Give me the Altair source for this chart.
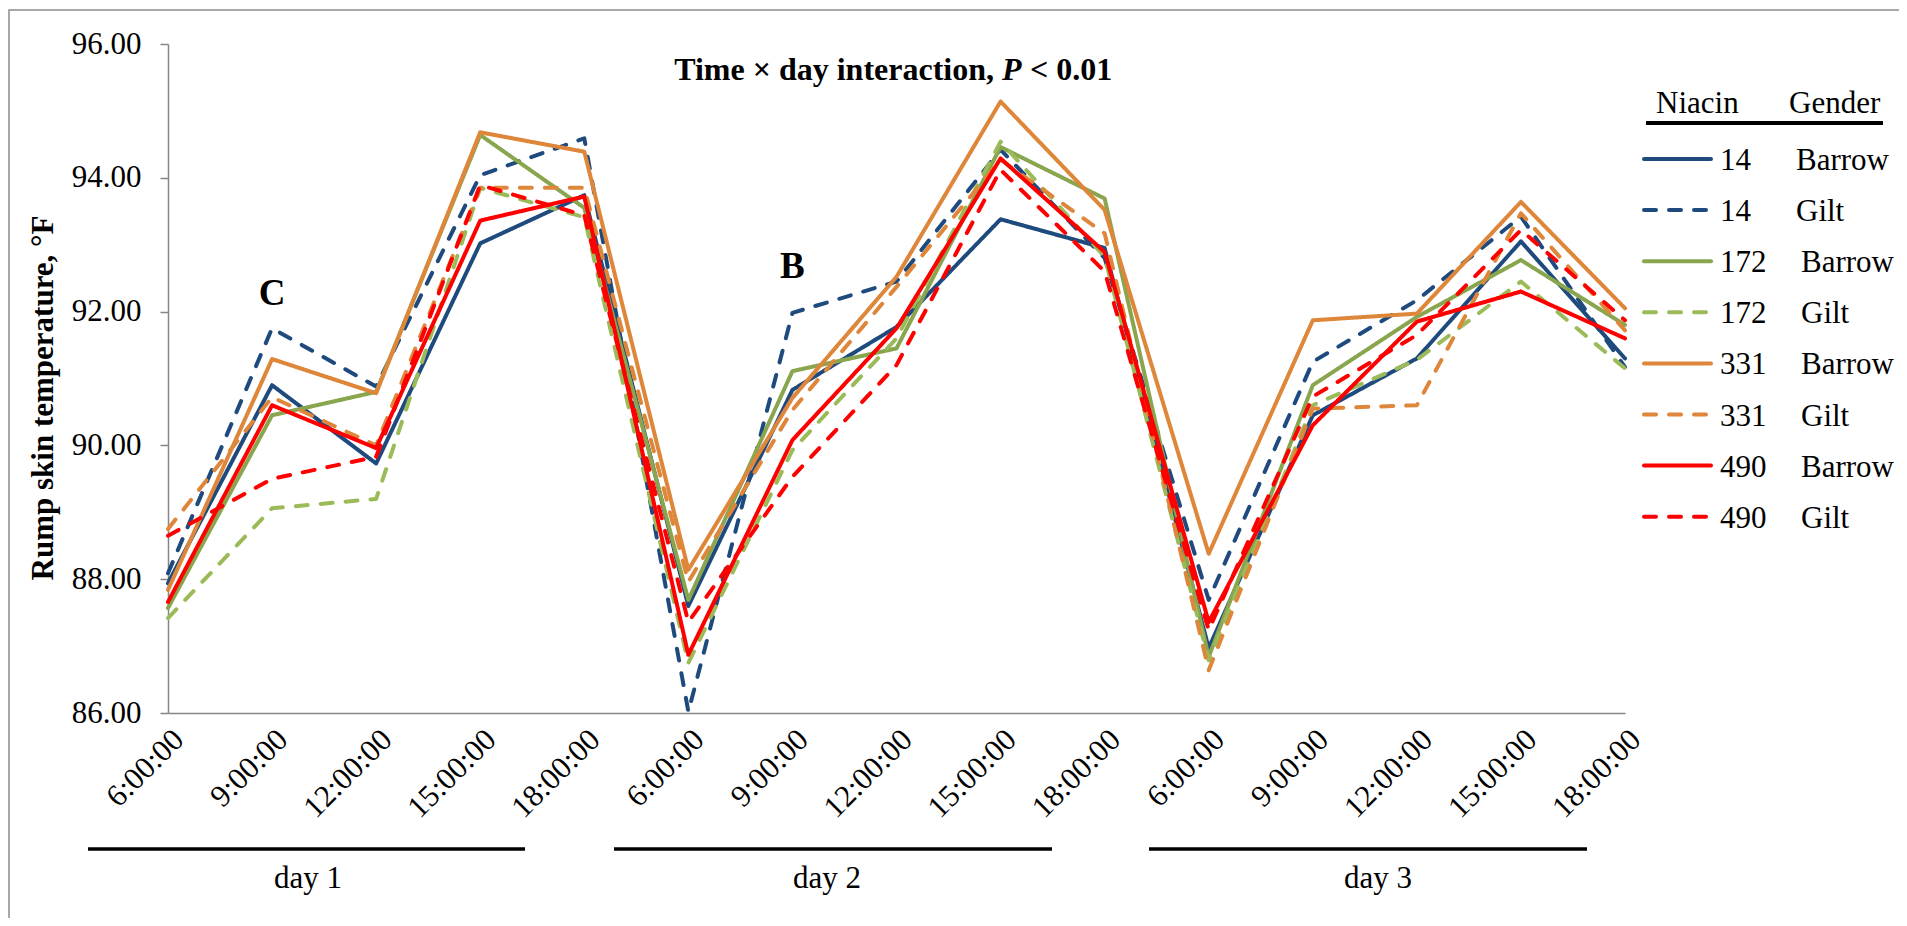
import altair as alt
import pandas as pd

# ---------------- data ----------------
times = ["6:00:00", "9:00:00", "12:00:00", "15:00:00", "18:00:00"]
days = ["day 1", "day 2", "day 3"]

niacin = ["14", "14", "172", "172", "331", "331", "490", "490"]
gender = ["Barrow", "Gilt", "Barrow", "Gilt", "Barrow", "Gilt", "Barrow", "Gilt"]

n14_barrow = [87.94, 90.90, 89.73, 93.02, 93.74,
              87.60, 90.83, 91.77, 93.38, 92.95,
              86.97, 90.45, 91.30, 93.05, 91.30]
n14_gilt = [88.09, 91.75, 90.88, 94.04, 94.59,
            86.02, 91.98, 92.45, 94.42, 92.80,
            87.69, 91.25, 92.17, 93.42, 91.17]
n172_barrow = [87.57, 90.45, 90.80, 94.64, 93.55,
               87.69, 91.11, 91.45, 94.46, 93.69,
               86.84, 90.90, 91.92, 92.77, 91.80]
n172_gilt = [87.42, 89.06, 89.20, 93.85, 93.41,
             86.75, 89.93, 91.60, 94.54, 92.82,
             86.79, 90.60, 91.28, 92.45, 91.15]
n331_barrow = [87.84, 91.29, 90.78, 94.68, 94.39,
               88.14, 90.71, 92.52, 95.14, 93.52,
               88.38, 91.87, 91.97, 93.64, 92.05]
n331_gilt = [88.75, 90.72, 90.00, 93.85, 93.85,
             87.96, 90.53, 92.37, 94.27, 93.17,
             86.64, 90.55, 90.60, 93.47, 91.72]
n490_barrow = [87.66, 90.60, 89.96, 93.36, 93.72,
               86.87, 90.08, 91.75, 94.29, 92.89,
               87.36, 90.30, 91.85, 92.30, 91.60]
n490_gilt = [88.65, 89.50, 89.83, 93.89, 93.44,
             87.36, 89.53, 91.20, 94.12, 92.60,
             87.24, 90.73, 91.65, 93.22, 91.87]

series_values = [n14_barrow, n14_gilt, n172_barrow, n172_gilt,
                 n331_barrow, n331_gilt, n490_barrow, n490_gilt]

annot_text = ["C", "B"]
annot_day = [0, 1]
annot_time = ["9:00:00", "9:00:00"]
annot_value = [92.10, 92.50]

# ---------------- build tables ----------------
keys = [f"{d + 1}|{t}" for d in range(len(days)) for t in times]
names = [f"{n} {g}" for n, g in zip(niacin, gender)]

rows = []
for name, vals in zip(names, series_values):
    for i, (k, v) in enumerate(zip(keys, vals)):
        rows.append({"key": k, "idx": i, "temp": v, "series": name})
df = pd.DataFrame(rows)

annot_df = pd.DataFrame({
    "key": [f"{d + 1}|{t}" for d, t in zip(annot_day, annot_time)],
    "temp": annot_value,
    "label": annot_text,
})

colors = ["#1F4A7E", "#1F4A7E", "#89A54E", "#9BBB59",
          "#DE8639", "#DE8639", "#FF0000", "#FF0000"]
dashes = [[1, 0], [12, 13], [1, 0], [12, 13], [1, 0], [12, 13], [1, 0], [12, 13]]

FONT = "Liberation Serif, Times New Roman, Tinos, DejaVu Serif, serif"
W, H = 1457, 669
GRAY = "#868686"

x_enc = alt.X(
    "key:O",
    sort=keys,
    scale=alt.Scale(type="point", domain=keys, padding=0),
    axis=alt.Axis(
        title=None, labelExpr="split(datum.label, '|')[1]",
        labelAngle=315, labelAlign="right", labelBaseline="top",
        labelPadding=11, ticks=False, tickSize=0,
        domainColor=GRAY, domainWidth=1.5, grid=False,
        labelFont=FONT, labelFontSize=31, labelColor="black",
        labelOverlap=False, labelFlush=False, labelBound=False,
    ),
)
y_enc = alt.Y(
    "temp:Q",
    scale=alt.Scale(domain=[86, 96], nice=False, zero=False),
    axis=alt.Axis(
        values=[86, 88, 90, 92, 94, 96], format=".2f",
        labelFont=FONT, labelFontSize=31, labelColor="black",
        labelPadding=19, tickSize=8, tickColor=GRAY, tickWidth=1.5,
        domainColor=GRAY, domainWidth=1.5, grid=False,
        title="Rump skin temperature, °F", titleFont=FONT,
        titleFontSize=31, titleFontWeight="bold", titleColor="black",
        titleAngle=270, titleX=-116, titleY=353.5, titleAlign="center",
        titleBaseline="alphabetic",
    ),
)

lines = alt.Chart(df).mark_line(strokeWidth=4, strokeCap="round", strokeJoin="round").encode(
    x=x_enc,
    y=y_enc,
    color=alt.Color("series:N", scale=alt.Scale(domain=names, range=colors), legend=None),
    strokeDash=alt.StrokeDash("series:N", scale=alt.Scale(domain=names, range=dashes), legend=None),
    order=alt.Order("idx:Q"),
)

annots = alt.Chart(annot_df).mark_text(
    font=FONT, fontSize=37, fontWeight="bold", baseline="alphabetic", align="center", color="black"
).encode(x=x_enc, y=y_enc, text="label:N")


def text_layer(txt, x, y, size=31, weight="normal", style="normal", align="left", baseline="alphabetic"):
    return alt.Chart(pd.DataFrame({"t": [txt]})).mark_text(
        font=FONT, fontSize=size, fontWeight=weight, fontStyle=style, align=align,
        baseline=baseline, color="black"
    ).encode(text="t:N", x=alt.value(x), y=alt.value(y))


def rule_layer(x0, x1, y, color="black", width=4, dash=None):
    kw = dict(color=color, strokeWidth=width, strokeCap="round")
    if dash is not None:
        kw["strokeDash"] = dash
    return alt.Chart(pd.DataFrame({"a": [0]})).mark_rule(**kw).encode(
        x=alt.value(x0), x2=alt.value(x1), y=alt.value(y)
    )


# chart title (mixed bold / bold-italic)
title_layers = [
    text_layer("Time × day interaction,", 826, 36, size=32, weight="bold", align="right"),
    text_layer("P", 834, 36, size=32, weight="bold", style="italic"),
    text_layer("< 0.01", 862, 36, size=32, weight="bold"),
]

# hand-built legend (two columns: Niacin / Gender)
legend_layers = [
    text_layer("Niacin", 1488, 69),
    text_layer("Gender", 1621, 69),
    alt.Chart(pd.DataFrame({"a": [0]})).mark_rule(color="black", strokeWidth=4).encode(
        x=alt.value(1478), x2=alt.value(1715), y=alt.value(79)
    ),
]
for i in range(len(names)):
    yy = 115 + 51.1 * i
    legend_layers.append(rule_layer(1476, 1543, yy, color=colors[i], width=4,
                                    dash=None if dashes[i] == [1, 0] else dashes[i]))
    legend_layers.append(text_layer(niacin[i], 1552, yy + 11))
    legend_layers.append(text_layer(gender[i], 1628 if len(niacin[i]) == 2 else 1633, yy + 11))

border = alt.Chart(pd.DataFrame({"a": [0]})).mark_rect(
    fill=None, fillOpacity=0, stroke="#8c8c8c", strokeWidth=1.5
).encode(x=alt.value(-159), x2=alt.value(2000), y=alt.value(-34), y2=alt.value(1200))

# day brackets (decoration under the axis)
bracket_layers = []
bracket_x0 = [-80, 446, 981]
bracket_x1 = [357, 884, 1419]
label_x = [140, 659, 1210]
for i, dname in enumerate(days):
    bracket_layers.append(
        alt.Chart(pd.DataFrame({"a": [0]})).mark_rule(color="black", strokeWidth=3.5).encode(
            x=alt.value(bracket_x0[i]), x2=alt.value(bracket_x1[i]), y=alt.value(805)
        )
    )
    bracket_layers.append(text_layer(dname, label_x[i], 844, align="center"))

chart = alt.layer(
    border, lines, annots, *title_layers, *legend_layers, *bracket_layers
).properties(
    width=W, height=H,
    autosize=alt.AutoSizeParams(type="none"),
    padding={"left": 160, "top": 36, "right": 274, "bottom": 205},
).configure(font=FONT).configure_view(stroke=None)

chart.save("out.html", embed_options={"renderer": "svg", "actions": False})
